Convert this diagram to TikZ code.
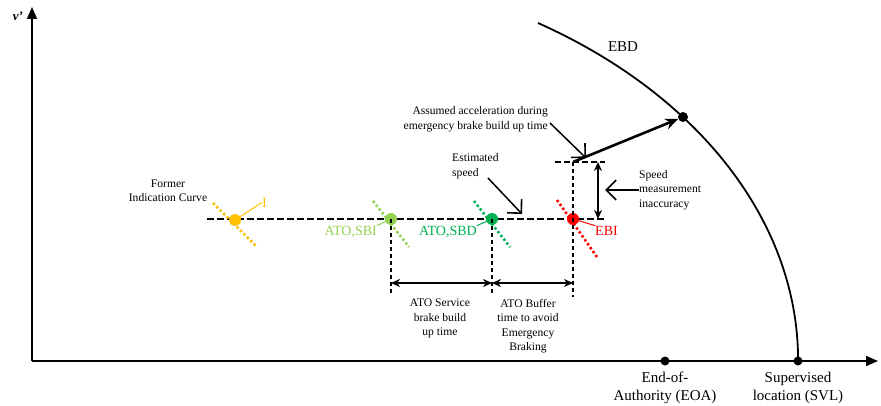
\documentclass[tikz,border=0pt]{standalone}
\usepackage{fontspec}
\setmainfont{Liberation Serif}
\usetikzlibrary{arrows.meta}

\definecolor{indorange}{RGB}{255,192,0}
\definecolor{sbigreen}{RGB}{146,208,80}
\definecolor{sbdgreen}{RGB}{0,176,80}
\definecolor{ebired}{RGB}{255,0,0}

\begin{document}
	\begin{tikzpicture}[x=1pt,y=1pt,
		axis/.style={line width=1.8pt, -{Triangle[length=12pt,width=10pt]}},
		speedline/.style={line width=1.4pt, dash pattern=on 7pt off 3pt},
		timeline/.style={line width=1.2pt, dash pattern=on 4pt off 3pt},
		curvedot/.style={circle, fill, inner sep=0pt, minimum size=#1},
		brakeline/.style={line width=2.6pt, dash pattern=on 2.4pt off 2.4pt},
		span/.style={line width=1.5pt, {Stealth[length=9pt,width=8pt]}-{Stealth[length=9pt,width=8pt]}},
		pointer/.style={line width=1.5pt, -{Straight Barb[length=10pt,width=20pt,line width=1.6pt]}},
		note/.style={font=\fontsize{11.6}{14.5}\selectfont, inner sep=0pt},
		tag/.style={font=\fontsize{14}{16}\selectfont, inner sep=0pt},
		place/.style={font=\fontsize{15}{18}\selectfont, align=center, inner sep=0pt}]
		\useasboundingbox (0,0) rectangle (881,405);
		% axes
		\coordinate (origin) at (32,44);
		\coordinate (vtop) at (32,398);
		\coordinate (send) at (878,44);
		\draw[axis] (origin) -- (vtop);
		\draw[axis] (origin) -- (send);
		\node (vname) at (18,389) [font=\fontsize{13}{15}\selectfont\bfseries\itshape] {v'};
		% EBD curve
		\coordinate (ebdtop) at (538,382);
		\draw[line width=1.8pt] (ebdtop) arc[start angle=58.3, end angle=0, x radius=548pt, y radius=396pt];
		\node (ebd) at (623,358) [tag, font=\fontsize{15}{17}\selectfont] {EBD};
		\node (eoa) at (665,44) [curvedot=9pt, label={[place, yshift=-6pt]below:{End-of-\\Authority (EOA)}}] {};
		\node (svl) at (798,44) [curvedot=9pt, label={[place, yshift=-6pt]below:{Supervised\\location (SVL)}}] {};
		\node (ebdpt) at (683,288) [curvedot=10pt] {};
		% estimated speed and the brake points on it
		\coordinate (speedstart) at (207,186);
		\coordinate (speedend) at (607,186);
		\draw[speedline] (speedstart) -- (speedend);
		\draw[brakeline, indorange] (213,202) -- (257,158);
		\draw[brakeline, sbigreen] (373,204) -- (409,158);
		\draw[brakeline, sbdgreen] (474,204) -- (510,158);
		\draw[brakeline, ebired] (557,205) -- (597,148);
		\node (ind) at (235,185) [curvedot=12pt, indorange] {};
		\node (sbi) at (391,186) [curvedot=12pt, sbigreen] {};
		\node (sbd) at (492,186) [curvedot=12pt, sbdgreen] {};
		\node (ebi) at (573,186) [curvedot=12pt, ebired] {};
		\node (indtag) at (262,198) [tag, anchor=base west, indorange] {I};
		\node (sbitag) at (377,170) [tag, anchor=base east, sbigreen] {ATO,SBI};
		\node (sbdtag) at (477,170) [tag, anchor=base east, sbdgreen] {ATO,SBD};
		\node (ebitag) at (595,170) [tag, anchor=base west, ebired] {EBI};
		\draw[indorange, line width=1pt] (ind.center) -- (indtag.west);
		\draw[sbigreen, line width=1pt] (sbi.center) -- (sbitag.north east);
		\draw[sbdgreen, line width=1pt] (sbd.center) -- (sbdtag.north east);
		\draw[ebired, line width=1pt] (ebi.center) -- (ebitag.north west);
		\node (former) at (168,214) [note, align=center] {Former\\Indication Curve};
		% build up times
		\coordinate (sbifoot) at (391,110);
		\coordinate (sbdfoot) at (492,110);
		\coordinate (ebifoot) at (573,108);
		\coordinate (ebihead) at (573,243);
		\draw[timeline] (sbi.center) -- (sbifoot);
		\draw[timeline] (sbd.center) -- (sbdfoot);
		\draw[timeline] (ebihead) -- (ebifoot);
		\draw[span] (391,122) -- (492,122);
		\draw[span] (492,122) -- (573,122);
		\node (servicetime) at (440,106) [note, align=center, anchor=north] {ATO Service\\brake build\\up time};
		\node (buffertime) at (528,106) [note, align=center, anchor=north] {ATO Buffer\\time to avoid\\Emergency\\Braking};
		% speed measurement inaccuracy
		\coordinate (inacctop) at (598,243);
		\coordinate (inaccbottom) at (598,186);
		\draw[timeline, dash pattern=on 6pt off 3pt] (555,243) -- (605,243);
		\draw[span] (inacctop) -- (inaccbottom);
		\node (inacc) at (639,215) [note, align=left, anchor=west] {Speed\\measurement\\inaccuracy};
		\draw[pointer] (inacc.west) -- (605,215);
		% acceleration during emergency brake build up
		\draw[line width=2.6pt, -{Stealth[length=13pt,width=11pt]}] (ebihead) -- (ebdpt);
		\node (assumed) at (548,286) [note, align=right, anchor=east] {Assumed acceleration during\\emergency brake build up time};
		\node (estimated) at (452,239) [note, align=left, anchor=west] {Estimated\\speed};
		\draw[pointer] (550,282) -- (586,247);
		\draw[pointer] (488,227) -- (522,191);
	\end{tikzpicture}
\end{document}
